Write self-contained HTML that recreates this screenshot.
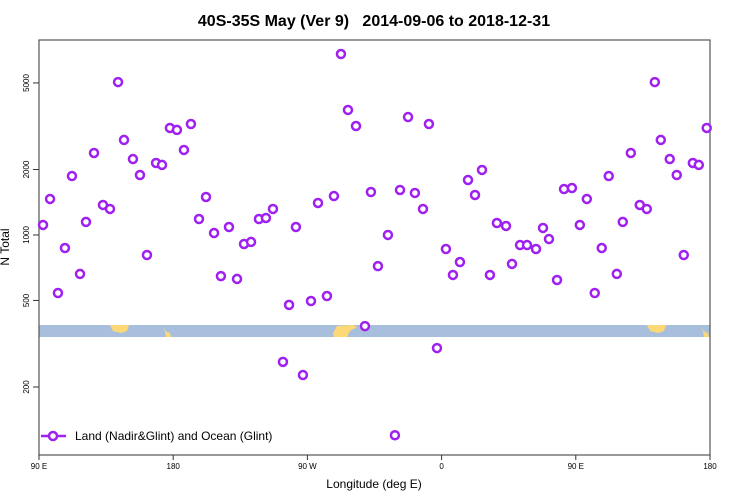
<!DOCTYPE html>
<html><head><meta charset="utf-8"><style>
body{margin:0;background:#fff;}
svg{display:block;font-family:"Liberation Sans",sans-serif;}
</style></head><body>
<svg id="chart" width="750" height="500">
<text x="374" y="26" text-anchor="middle" font-size="16" font-weight="bold">40S-35S May (Ver 9)&#160;&#160; 2014-09-06 to 2018-12-31</text>
<rect x="39" y="325" width="671" height="12" fill="#a7bfdc"/>
<g fill="#fdd876">
<path d="M110 325 L129 325 L127 331 L121 333 L113 331 Z"/>
<path d="M162 325 L165 330 L167 332 L170 333 L171 337 L166 337 L165 331 Z"/>
<path d="M333 333 L337 326 L353 325 L357 327 L350 331 L347 337 L334 337 Z"/>
<path d="M647 325 L666 325 L664 331 L658 333 L650 331 Z"/>
<path d="M700 325 L703 330 L705 332 L708 333 L709 337 L704 337 L703 331 Z"/>
</g>
<g id="axes"></g>
<g id="marks"></g>
<text x="374" y="488" text-anchor="middle" font-size="12">Longitude (deg E)</text>
<text transform="translate(9,247) rotate(-90)" text-anchor="middle" font-size="12">N Total</text>
<g>
<line x1="41" y1="436" x2="66" y2="436" stroke="#a020f0" stroke-width="2.5"/>
<circle cx="53" cy="436" r="4" fill="#fff" stroke="#a020f0" stroke-width="2.5"/>
<text x="75" y="440" font-size="12">Land (Nadir&amp;Glint) and Ocean (Glint)</text>
</g>
</svg>
<script>
const lons=[92.7,97.4,102.7,107.4,112.1,117.5,121.5,126.9,132.9,137.6,143,147,153,157.7,162.4,168.5,172.5,177.8,182.5,187.2,191.9,197.3,202,207.4,212,217.4,222.8,227.5,232.2,237.5,242.2,246.9,253.6,257.7,262.3,267,272.4,277.1,283.1,287.8,292.5,297.2,302.6,308.6,312.6,317.3,324,328.7,332.1,337.5,342.1,347.5,351.5,356.9,362.9,367.6,372.3,377.7,382.4,387.1,392.4,397.1,403.2,407.2,412.6,417.3,423.3,428,432,437.4,442.1,447.4];
const counts=[1112,1464,541,871,1866,662,1148,2382,1374,1317,5046,2735,2234,1887,809,2143,2099,3105,3041,2460,3237,1184,1495,1021,647,1088,628,909,929,1184,1197,1317,261,477,1088,227,497,1403,524,1510,6792,3757,3170,381,1576,719,1000,120,1610,3485,1560,1317,3237,302,862,655,751,1790,1527,1990,655,1135,1100,736,899,899,862,1077,958,621,1626,1644];
const yTicks=[200,500,1000,2000,5000];
const xTickPos=[90,180,270,360,450,540];
const xTickLabels=["90 E","180","90 W","0","90 E","180"];
const NS="http://www.w3.org/2000/svg";
const X0=39,X1=710,Y0=40,Y1=455;
function xScale(l){return X0+(l-90)*(X1-X0)/450;}
function yScale(v){return 387-(Math.log10(v)-Math.log10(200))*217.5;}
function mk(tag,attrs,parent){const e=document.createElementNS(NS,tag);for(const k in attrs)e.setAttribute(k,attrs[k]);parent.appendChild(e);return e;}
const ax=document.getElementById('axes');
const box=mk('rect',{x:X0,y:Y0,width:X1-X0,height:Y1-Y0,fill:'none',stroke:'#555','stroke-width':1.2},ax);


yTicks.forEach(v=>{const y=yScale(v);
 const t=mk('line',{x1:X0-6,x2:X0,y1:y,y2:y,stroke:'#333'},ax);
 
 
 const tx=mk('text',{transform:`translate(${X0-10},${y}) rotate(-90)`,'text-anchor':'middle','font-size':8},ax);
 tx.textContent=v;
 
 
});
xTickPos.forEach((p,i)=>{const x=xScale(p);
 const t=mk('line',{x1:x,x2:x,y1:Y1,y2:Y1+5,stroke:'#333'},ax);
 
 
 const tx=mk('text',{x:x,y:Y1+14,'text-anchor':'middle','font-size':8},ax);
 tx.textContent=xTickLabels[i];
 
 
});
const mg=document.getElementById('marks');
lons.forEach((l,i)=>{[l,l+360].forEach(L=>{if(L<90||L>541)return;
 const c=mk('circle',{cx:xScale(L),cy:yScale(counts[i]),r:4,fill:'#fff',stroke:'#a020f0','stroke-width':2.5},mg);
 
 
});});
</script>
</body></html>
